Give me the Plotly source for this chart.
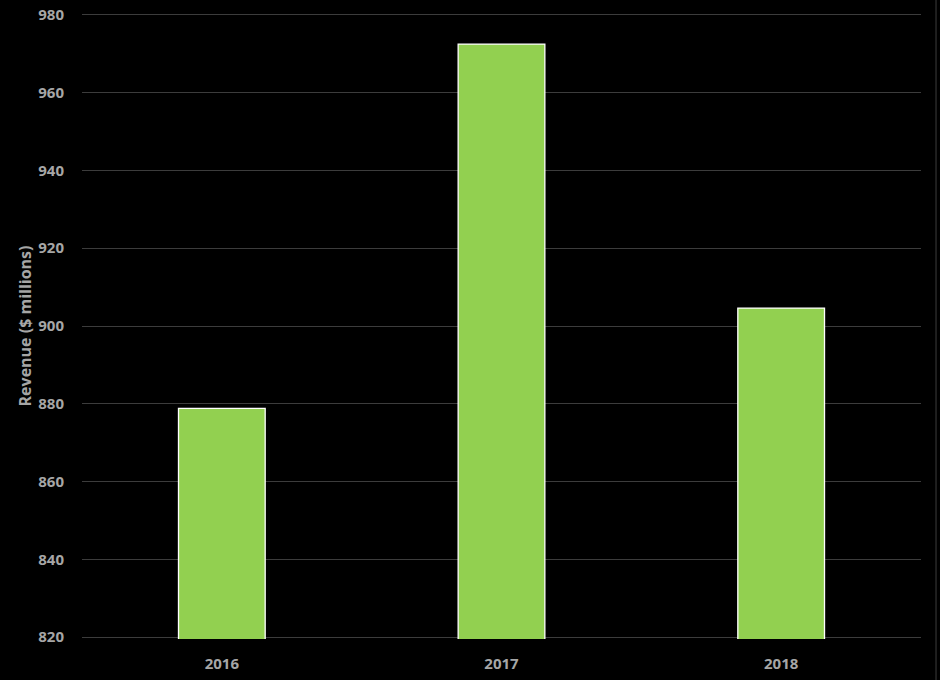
import plotly.graph_objects as go

years = ["2016", "2017", "2018"]
revenue = [878.8, 972.5, 904.6]
y_ticks = [820, 840, 860, 880, 900, 920, 940, 960, 980]

fig = go.Figure()
fig.add_trace(go.Bar(
    x=years, y=revenue,
    marker=dict(color="#92d050", line=dict(color="#ffffff", width=1.3)),
    width=0.31,
))

font_col = "#a6a6a6"
fnt = "Open Sans, sans-serif"
fig.update_layout(
    width=940, height=680,
    paper_bgcolor="#000000", plot_bgcolor="#000000",
    margin=dict(l=82, r=19, t=13, b=41),
    font=dict(family=fnt, size=15, color=font_col),
    showlegend=False,
    xaxis=dict(
        showgrid=False, zeroline=False, showline=False, ticks="",
        ticklabelstandoff=14, automargin=False,
        tickfont=dict(family=fnt, size=15, color=font_col, weight="bold"),
    ),
    yaxis=dict(
        range=[819.5, 980.5], tickvals=y_ticks, showgrid=True, gridcolor="#3c3c3c",
        gridwidth=1, zeroline=False, showline=False, ticks="",
        ticklabelstandoff=17, automargin=False,
        tickfont=dict(family=fnt, size=15, color=font_col, weight="bold"),
        title=dict(text="Revenue ($ millions)", standoff=2,
                   font=dict(family=fnt, size=16, color=font_col, weight="bold")),
    ),
    shapes=[dict(type="line", xref="paper", yref="paper", x0=1.0179, x1=1.0179,
                 y0=-0.08, y1=1.03, line=dict(color="#3c3c3c", width=1))],
)

fig.write_html(
    "out.html",
    config={"displayModeBar": False},
    post_script="document.body.style.margin='0';document.body.style.background='#000';",
)
